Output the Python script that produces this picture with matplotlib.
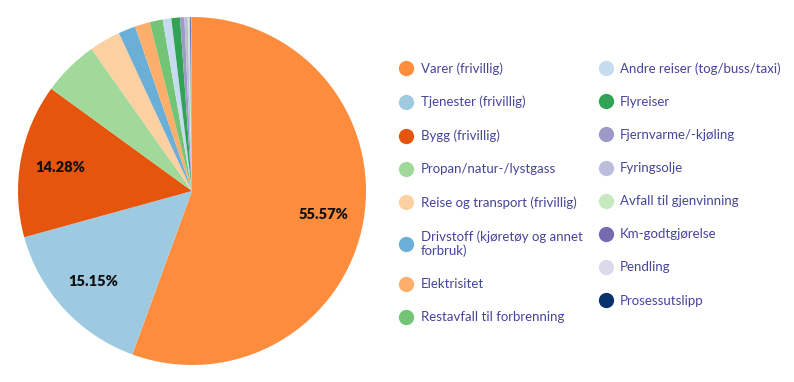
import matplotlib
matplotlib.use("Agg")
import matplotlib.pyplot as plt
from matplotlib.lines import Line2D

categories = [
    "Varer (frivillig)", "Tjenester (frivillig)", "Bygg (frivillig)",
    "Propan/natur-/lystgass", "Reise og transport (frivillig)",
    "Drivstoff (kjøretøy og annet\nforbruk)", "Elektrisitet",
    "Restavfall til forbrenning", "Andre reiser (tog/buss/taxi)",
    "Flyreiser", "Fjernvarme/-kjøling", "Fyringsolje",
    "Avfall til gjenvinning", "Km-godtgjørelse", "Pendling", "Prosessutslipp",
]
values = [55.57, 15.15, 14.28, 5.2, 2.9, 1.6, 1.4, 1.2, 0.8, 0.8, 0.4, 0.3, 0.2, 0.1, 0.08, 0.02]
colors = ["#fd8d3c", "#9ecae1", "#e6550d", "#a1d99b", "#fdd0a2", "#6baed6",
          "#fdae6b", "#74c476", "#c6dbef", "#31a354", "#9e9ac8", "#bcbddc",
          "#c7e9c0", "#756bb1", "#dadaeb", "#08306b"]

plt.rcParams['font.family'] = ['Lato', 'DejaVu Sans']

W, H = 794, 382
fig = plt.figure(figsize=(W / 100, H / 100), dpi=100)
cx, cy, r = 192, 191, 174
ax = fig.add_axes([(cx - r) / W, (H - cy - r) / H, 2 * r / W, 2 * r / H])

def fmt(p):
    return f"{p:.2f}%" if p > 10 else ""

wedges, texts, autotexts = ax.pie(
    values, colors=colors, startangle=90, counterclock=False,
    autopct=fmt, pctdistance=0.77, radius=1.0,
    wedgeprops=dict(linewidth=0),
    textprops=dict(fontsize=10.5, fontweight='heavy', color='#111111'))
ax.set_xlim(-1, 1)
ax.set_ylim(-1, 1)
ax.set_aspect('equal')

handles = [Line2D([0], [0], marker='o', linestyle='none', markersize=11,
                  markerfacecolor=c, markeredgewidth=0) for c in colors]
leg = fig.legend(handles, categories, ncol=2, loc='upper left',
                 bbox_to_anchor=(393 / W, 1 - 57 / H), frameon=False,
                 fontsize=9.5, labelspacing=1.6, handletextpad=0.5,
                 columnspacing=1.15, handlelength=1.2, borderaxespad=0)
for t in leg.get_texts():
    t.set_color('#45459a')

fig.savefig("out.png", dpi=100)
